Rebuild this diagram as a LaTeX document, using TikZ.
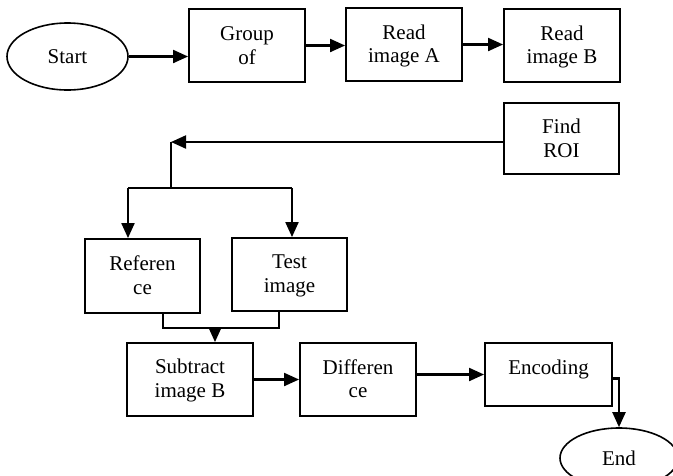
\documentclass[tikz,border=0pt]{standalone}
\usepackage{fontspec}
\setmainfont{Liberation Serif}
\usetikzlibrary{arrows.meta,shapes.geometric}
\begin{document}
\begin{tikzpicture}[x=1pt,y=-1pt,
  box/.style={draw,line width=1.9pt,rectangle,inner sep=0pt},
  txt/.style={anchor=north,inner sep=0pt,align=center,font=\fontsize{21}{23.5}\selectfont,execute at begin node=\strut},
  oval/.style={draw,line width=1.6pt,ellipse,inner sep=0pt,font=\fontsize{21}{23.5}\selectfont},
  arr/.style={line width=2.1pt,-{Triangle[length=15pt,width=13pt]}},
  ln/.style={line width=1.7pt}]
\useasboundingbox (0,0) rectangle (673,475);
\clip (0,0) rectangle (673,475);
% ovals
\node[oval,minimum width=121pt,minimum height=67pt] (st) at (67.5,56.5) {Start};
\node[oval,minimum width=118pt,minimum height=60pt] (en) at (619,458) {End};
% boxes
\node[box,minimum width=116pt,minimum height=73pt] (grp) at (247,45.5) {};
\node[box,minimum width=116pt,minimum height=73pt] (rda) at (404,44.5) {};
\node[box,minimum width=116pt,minimum height=73pt] (rdb) at (562,45.5) {};
\node[box,minimum width=115pt,minimum height=71pt] (roi) at (561.5,138.5) {};
\node[box,minimum width=115pt,minimum height=74pt] (ref) at (142.5,276) {};
\node[box,minimum width=115pt,minimum height=73pt] (tst) at (289.5,274.5) {};
\node[box,minimum width=126pt,minimum height=73pt] (sub) at (190,379.5) {};
\node[box,minimum width=116pt,minimum height=73pt] (dif) at (358,379.5) {};
\node[box,minimum width=127pt,minimum height=63pt] (enc) at (548.5,374.5) {};
% texts
\node[txt] (grp-t) at ([yshift=-18.5pt]grp.north) {Group\\of};
\node[txt] (rda-t) at ([yshift=-17.5pt]rda.north) {Read\\image A};
\node[txt] (rdb-t) at ([yshift=-17.5pt]rdb.north) {Read\\image B};
\node[txt] (roi-t) at ([yshift=-17pt]roi.north) {Find\\ROI};
\node[txt] (ref-t) at ([yshift=-17.5pt]ref.north) {Referen\\ce};
\node[txt] (tst-t) at ([yshift=-17.5pt]tst.north) {Test\\image};
\node[txt] (sub-t) at ([yshift=-17pt]sub.north) {Subtract\\image B};
\node[txt] (dif-t) at ([yshift=-17pt]dif.north) {Differen\\ce};
\node[txt] (enc-t) at ([yshift=-16pt]enc.north) {Encoding};
% junction coordinates
\coordinate (jt) at (171,142);
\coordinate (jb) at (171,188);
\coordinate (bl) at (128,188);
\coordinate (br) at (292,188);
\coordinate (ml) at (163,328);
\coordinate (mr) at (279,328);
\coordinate (mm) at (215,328);
% connectors
\draw[arr] (st.east) -- (st.east -| grp.west);
\draw[arr] (grp.east) -- (grp.east -| rda.west);
\draw[arr] (rda.east) -- (rda.east -| rdb.west);
\draw[arr] (roi.west |- jt) -- (jt);
\draw[ln] (jt) -- (jb);
\draw[ln] (bl) -- (br);
\draw[arr] (bl) -- (bl |- ref.north);
\draw[arr] (br) -- (br |- tst.north);
\draw[ln] (ml |- ref.south) -- (ml) -- (mr) -- (mr |- tst.south);
\draw[arr] (mm) -- (mm |- sub.north);
\draw[arr] (sub.east) -- (sub.east -| dif.west);
\draw[arr] (dif.east |- enc.west) -- (enc.west);
\draw[arr] ([yshift=-4pt]enc.east) -| (en.north);
\end{tikzpicture}
\end{document}
